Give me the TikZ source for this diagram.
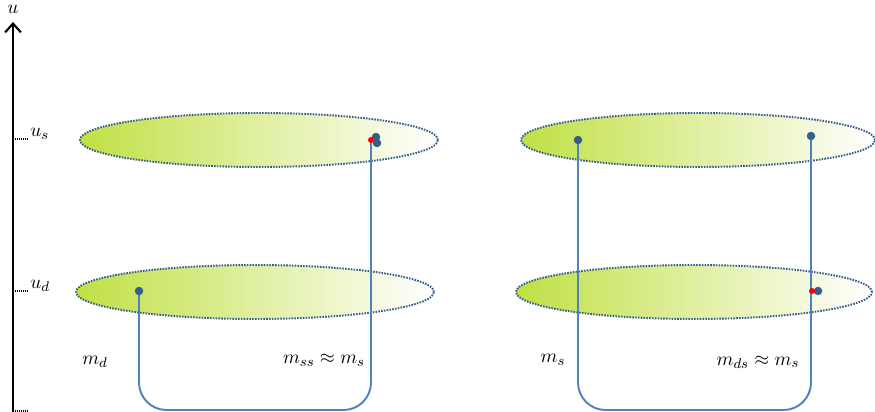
\documentclass[tikz,border=0pt]{standalone}
\usetikzlibrary{shapes.geometric,arrows.meta}
\definecolor{leafgreen}{RGB}{192,224,68}
\definecolor{rimblue}{RGB}{56,93,138}
\definecolor{linkblue}{RGB}{79,129,189}
\pgfdeclarelayer{shade}
\pgfdeclarelayer{links}
\pgfsetlayers{shade,links,main}
\tikzset{
  level/.style={ellipse, draw=rimblue, line width=1.1pt, dash pattern=on 0.9pt off 0.7pt, left color=leafgreen, right color=white, minimum height=1.08cm, inner sep=0pt},
  bead/.style={circle, fill=rimblue, minimum size=0.17cm, inner sep=0pt},
  redbead/.style={circle, fill=red, minimum size=0.12cm, inner sep=0pt},
  link/.style={draw=linkblue, line width=1.1pt, rounded corners=0.55cm},
  tick/.style={dash pattern=on 0.6pt off 0.5pt, line width=0.7pt},
  lbl/.style={font=\fontsize{11}{13}\selectfont}
}
\begin{document}
\begin{tikzpicture}[x=0.02cm, y=0.02cm]
    \useasboundingbox (0,0) rectangle (875,412);
    % energy axis
    \coordinate (axB) at (13,0);
    \coordinate (axT) at (13,390);
    \draw[-{Straight Barb[length=5pt,width=9pt]}, line width=1.2pt] (axB) -- (axT);
    \node[lbl] (u) at (13,403) {$u$};
    \draw[tick] (13,273) -- (28,273) node[lbl, right, inner sep=1pt, yshift=3pt] (us) {$u_s$};
    \draw[tick] (13,121) -- (28,121) node[lbl, right, inner sep=1pt, yshift=3pt] (ud) {$u_d$};
    \draw[tick] (13,1) -- (28,1);
    % levels
    \begin{pgfonlayer}{shade}
    \node[level, minimum width=7.16cm] (sL) at (259,272) {};
    \node[level, minimum width=7.16cm] (dL) at (255,120) {};
    \node[level, minimum width=7.08cm] (sR) at (698,272) {};
    \node[level, minimum width=7.12cm] (dR) at (694,120) {};
    \end{pgfonlayer}
    % beads
    \node[bead] (pdL) at (139,121) {};
    \node[bead] (qsL) at (376,275) {};
    \node[bead] (rsL) at (377,269) {};
    \node[redbead] (psL) at (371,272) {};
    \node[bead] (psR) at (578,272) {};
    \node[bead] (pdR) at (811,276) {};
    \node[bead] (qdR) at (818,121) {};
    \node[redbead] (rdR) at (812,121) {};
    % paths
    \coordinate (botL) at (255,2);
    \coordinate (botR) at (695,2);
    \begin{pgfonlayer}{links}
    \draw[link] (pdL.center) |- (botL) -| (psL.center);
    \draw[link] (psR.center) |- (botR) -| (pdR.center);
    \end{pgfonlayer}
    % labels
    \node[lbl] (md) at (95,50) {$m_d$};
    \node[lbl] (mss) at (324,52) {$m_{ss}\approx m_s$};
    \node[lbl] (ms) at (553,52) {$m_s$};
    \node[lbl] (mds) at (758,50) {$m_{ds}\approx m_s$};
\end{tikzpicture}
\end{document}
